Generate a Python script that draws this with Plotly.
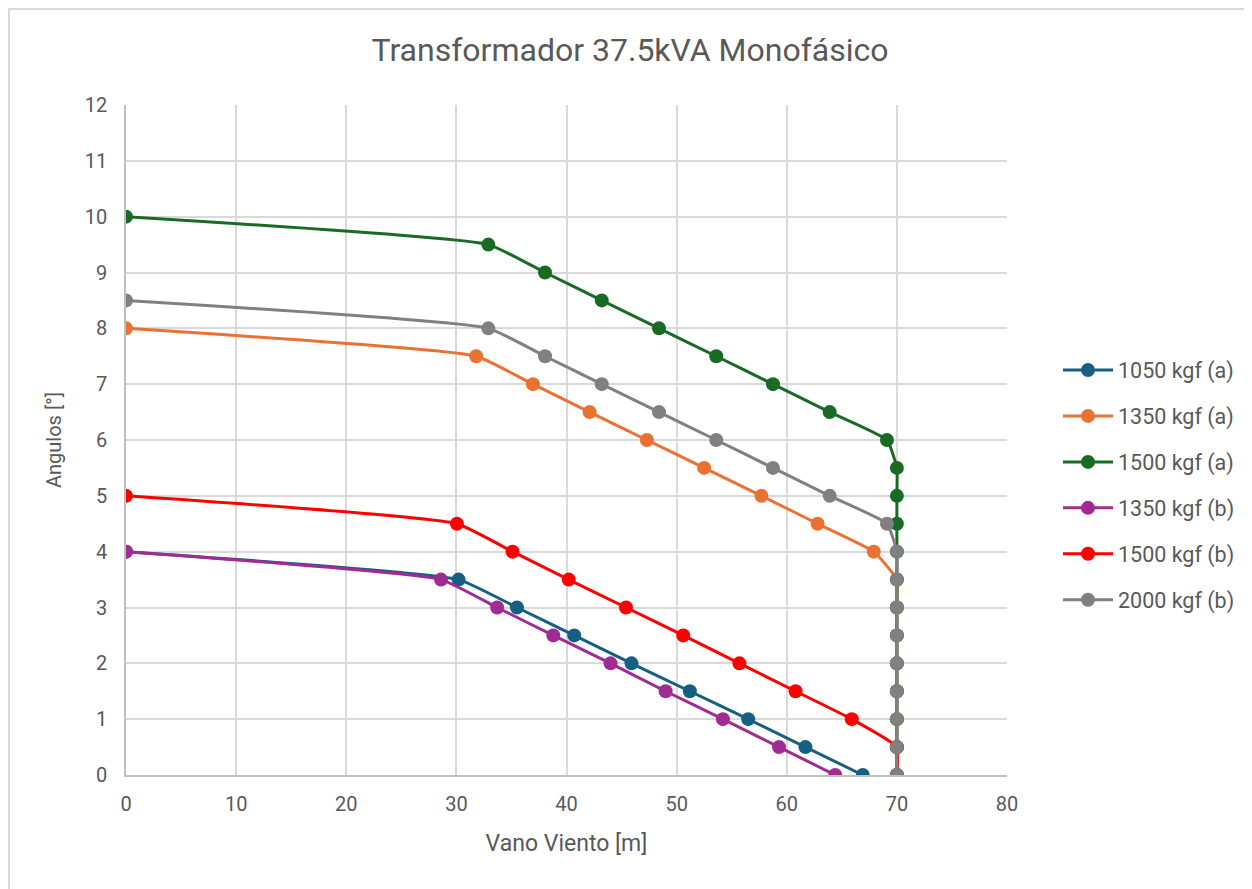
import plotly.graph_objects as go

# Vano viento [m] and angulos [deg] per series
x_1050a = [0, 30.2, 35.5, 40.7, 45.9, 51.2, 56.5, 61.7, 66.9]
y_1050a = [4, 3.5, 3, 2.5, 2, 1.5, 1, 0.5, 0]

x_1350a = [0, 31.8, 36.95, 42.1, 47.3, 52.5, 57.7, 62.8, 67.9, 70, 70, 70, 70, 70, 70, 70, 70]
y_1350a = [8, 7.5, 7, 6.5, 6, 5.5, 5, 4.5, 4, 3.5, 3, 2.5, 2, 1.5, 1, 0.5, 0]

x_1500a = [0, 32.9, 38.05, 43.2, 48.4, 53.6, 58.75, 63.9, 69.1, 70, 70, 70, 70, 70, 70, 70, 70, 70, 70, 70, 70]
y_1500a = [10, 9.5, 9, 8.5, 8, 7.5, 7, 6.5, 6, 5.5, 5, 4.5, 4, 3.5, 3, 2.5, 2, 1.5, 1, 0.5, 0]

x_1350b = [0, 28.6, 33.7, 38.8, 44.0, 49.0, 54.2, 59.3, 64.4]
y_1350b = [4, 3.5, 3, 2.5, 2, 1.5, 1, 0.5, 0]

x_1500b = [0, 30.05, 35.1, 40.2, 45.4, 50.6, 55.7, 60.8, 65.9, 70, 70]
y_1500b = [5, 4.5, 4, 3.5, 3, 2.5, 2, 1.5, 1, 0.5, 0]

x_2000b = [0, 32.9, 38.05, 43.2, 48.4, 53.6, 58.75, 63.9, 69.1, 70, 70, 70, 70, 70, 70, 70, 70, 70]
y_2000b = [8.5, 8, 7.5, 7, 6.5, 6, 5.5, 5, 4.5, 4, 3.5, 3, 2.5, 2, 1.5, 1, 0.5, 0]

series = [
    ("1050 kgf (a)", x_1050a, y_1050a, "#156082"),
    ("1350 kgf (a)", x_1350a, y_1350a, "#E97132"),
    ("1500 kgf (a)", x_1500a, y_1500a, "#196B24"),
    ("1350 kgf (b)", x_1350b, y_1350b, "#A02B93"),
    ("1500 kgf (b)", x_1500b, y_1500b, "#FF0000"),
    ("2000 kgf (b)", x_2000b, y_2000b, "#808080"),
]

txt = "#595959"
font_family = "Roboto, sans-serif"

fig = go.Figure()
for name, xs, ys, color in series:
    fig.add_trace(go.Scatter(
        x=xs, y=ys, name=name, legendgroup=name,
        mode="lines+markers",
        line=dict(color=color, width=3, shape="spline", smoothing=0.4),
        marker=dict(color=color, size=14),
    ))

# page body has an 8px margin, so the figure is shifted by 8px
off = 8
W, H = 1252 - off, 889 - off
ml, mt = 126 - off, 105 - off
pw, ph = 881, 670
mr, mb = W - ml - pw, H - mt - ph

fig.update_layout(
    width=W, height=H,
    margin=dict(l=ml, r=mr, t=mt, b=mb, autoexpand=False),
    paper_bgcolor="white",
    plot_bgcolor="white",
    font=dict(family=font_family, color=txt, size=20),
    title=dict(text="Transformador 37.5kVA Monofásico", x=(630 - off) / W, xanchor="center",
               y=1 - (50 - off) / H, yanchor="middle", font=dict(size=32, color=txt)),
    xaxis=dict(
        range=[0, 80], dtick=10, tick0=0,
        showgrid=True, gridcolor="#D9D9D9", gridwidth=1.5,
        showline=True, linecolor="#BFBFBF", linewidth=1.5,
        zeroline=False, ticks="", ticklabelstandoff=10,
        title=dict(text="Vano Viento [m]", font=dict(size=23, color=txt), standoff=20),
        tickfont=dict(size=20, color=txt),
    ),
    yaxis=dict(
        range=[0, 12], dtick=1, tick0=0,
        showgrid=True, gridcolor="#D9D9D9", gridwidth=1.5,
        showline=True, linecolor="#BFBFBF", linewidth=1.5,
        zeroline=False, ticks="", ticklabelstandoff=13,
        title=dict(text="Angulos [°]", font=dict(size=20, color=txt), standoff=18),
        tickfont=dict(size=20, color=txt),
    ),
    legend=dict(
        x=(1058 - 126) / pw, xanchor="left",
        y=1 - (485 - 105) / ph, yanchor="middle",
        font=dict(size=21.5, color=txt),
        itemwidth=50,
        traceorder="grouped",
        tracegroupgap=15,
        bgcolor="rgba(0,0,0,0)",
    ),
    showlegend=True,
)

# outer chart border (only the left and top edges fall inside the view)
fig.add_shape(
    type="rect", xref="paper", yref="paper",
    x0=(9 - 126) / pw, x1=(1300 - 126) / pw,
    y0=-(950 - 775) / ph, y1=1 + (105 - 9) / ph,
    line=dict(color="#D9D9D9", width=2), fillcolor="rgba(0,0,0,0)",
    layer="below",
)

fig.write_html("out.html")
